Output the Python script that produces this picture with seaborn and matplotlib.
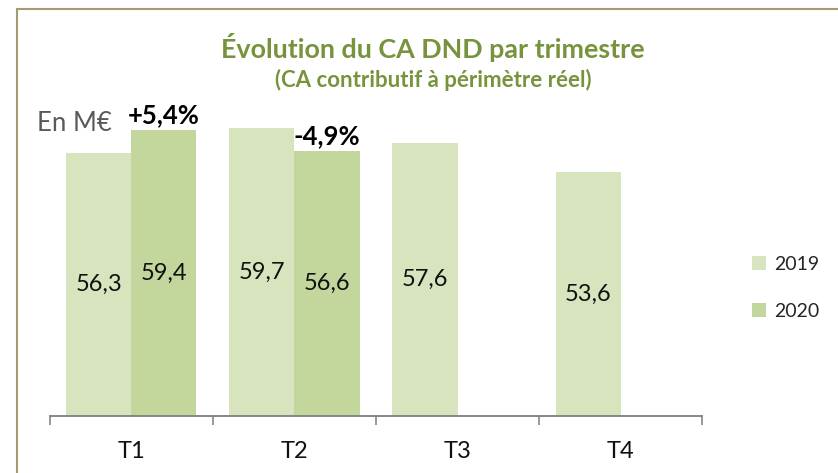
import matplotlib
matplotlib.use("Agg")
import matplotlib.pyplot as plt
import matplotlib.patches as mpatches
import numpy as np
import pandas as pd
import seaborn as sns

# %% DATA
quarters = ["T1", "T2", "T3", "T4"]
years = ["2019", "2020"]
ca_2019 = [56.3, 59.7, 57.6, 53.6]
ca_2020 = [59.4, 56.6, np.nan, np.nan]
evolution_labels = ["+5,4%", "-4,9%"]

df = pd.DataFrame(
    {
        "trimestre": quarters * 2,
        "annee": [years[0]] * 4 + [years[1]] * 4,
        "ca": ca_2019 + ca_2020,
    }
)

# %% STYLE
sns.set_style("white")
plt.rcParams["font.family"] = ["Lato", "DejaVu Sans"]
green_title = "#77933C"
colors = ["#D7E4BD", "#C3D69B"]

fig = plt.figure(figsize=(8.38, 4.73), dpi=100)
ax = fig.add_axes([0.0592, 0.1205, 0.779, 0.7664])

sns.barplot(
    data=df,
    x="trimestre",
    y="ca",
    hue="annee",
    order=quarters,
    hue_order=years,
    palette=colors,
    saturation=1,
    width=0.8,
    linewidth=0,
    edgecolor="none",
    ax=ax,
)

ax.set_ylim(20, 70)
ax.set_xlim(-0.5, 3.5)
ax.set_xlabel("")
ax.set_ylabel("")
ax.set_yticks([])

# category boundaries as ticks, labels in the middle
ax.set_xticks(np.arange(-0.5, 4, 1))
ax.set_xticklabels([])
ax.set_xticks(np.arange(4), minor=True)
ax.set_xticklabels(quarters, minor=True, fontsize=17)
ax.tick_params(axis="x", which="major", direction="out", length=6.5, width=1.2,
               color="#868686", bottom=True)
ax.tick_params(axis="x", which="minor", length=0, pad=18, labelcolor="#111111")

for side in ["left", "top", "right"]:
    ax.spines[side].set_visible(False)
ax.spines["bottom"].set_color("#868686")
ax.spines["bottom"].set_linewidth(1.4)

# value labels inside bars
for cont in ax.containers:
    ax.bar_label(cont, fmt=lambda v: f"{v:.1f}".replace(".", ","),
                 label_type="center", fontsize=17, color="#111111")

# evolution labels above 2020 bars
ax.bar_label(ax.containers[1], labels=evolution_labels, padding=2,
             fontsize=18.5, fontweight="bold", color="black")

# legend
handles = [mpatches.Patch(color=c, label=y, linewidth=0) for c, y in zip(colors, years)]
ax.legend(handles=handles, loc="center left", bbox_to_anchor=(0.897, 0.392),
          bbox_transform=fig.transFigure, frameon=False, fontsize=14,
          handlelength=0.75, handleheight=0.75, handletextpad=0.4,
          labelspacing=1.55, borderpad=0, borderaxespad=0)

# titles and unit
fig.text(0.516, 0.90, "Évolution du CA DND par trimestre", ha="center",
         va="center", fontsize=19.4, fontweight="bold", color=green_title)
fig.text(0.517, 0.831, "(CA contributif à périmètre réel)", ha="center",
         va="center", fontsize=16, fontweight="bold", color=green_title)
fig.text(0.044, 0.738, "En M€", ha="left", va="center", fontsize=18.5,
         color="#595959")

# frame around the chart area
fig.patches.append(
    mpatches.Rectangle((0.0203, -0.1), 1.2, 1.08, transform=fig.transFigure,
                       fill=False, edgecolor="#A39B72", linewidth=1.5)
)

fig.savefig("out.png", dpi=100)
